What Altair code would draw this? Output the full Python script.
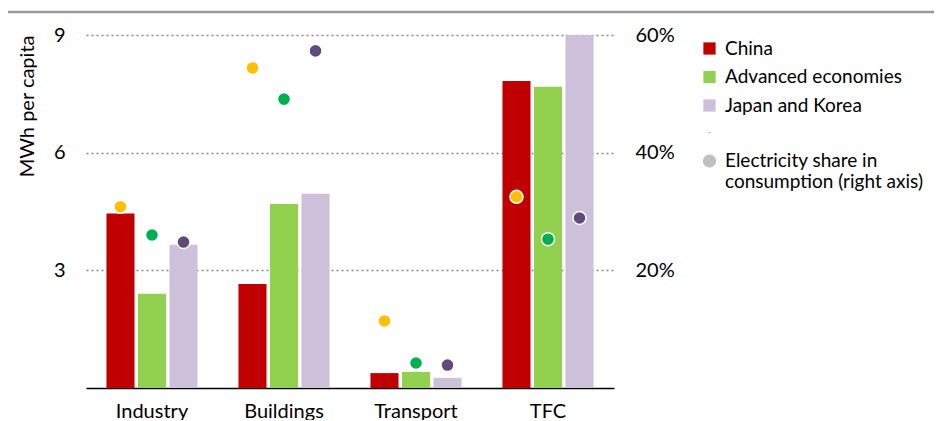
import altair as alt
import pandas as pd

categories = ["Industry", "Buildings", "Transport", "TFC"]
series = ["China", "Advanced economies", "Japan and Korea"]
mwh_china = [4.45, 2.65, 0.38, 7.83]
mwh_adv = [2.40, 4.69, 0.41, 7.68]
mwh_jk = [3.65, 4.95, 0.26, 9.0]
share_china = [0.308, 0.544, 0.114, 0.325]
share_adv = [0.260, 0.491, 0.0425, 0.253]
share_jk = [0.248, 0.573, 0.039, 0.289]

bar_colors = ["#C00000", "#92D050", "#CCC0DA"]
dot_colors = ["#FFC000", "#00B050", "#604A7B"]
share_label = "Electricity share in consumption (right axis)"

rows = []
for s, mw, sh in zip(series, [mwh_china, mwh_adv, mwh_jk], [share_china, share_adv, share_jk]):
    for c, m, p in zip(categories, mw, sh):
        rows.append({"cat": c, "series": s, "mwh": m, "share": p, "lbl": share_label})
df = pd.DataFrame(rows)

FONT = "Lato"
FS = 20
LFS = 19

x_enc = alt.X("cat:N", sort=categories, title=None,
              scale=alt.Scale(paddingInner=0.31, paddingOuter=0.155),
              axis=alt.Axis(labelAngle=0, labelFontSize=FS, labelColor="#000", labelPadding=13,
                            ticks=False, domainColor="#000", domainWidth=1.5, labelFont=FONT))
xo_enc = alt.XOffset("series:N", sort=series, scale=alt.Scale(paddingInner=0.11, paddingOuter=0))

bars = alt.Chart(df).mark_bar().encode(
    x=x_enc,
    xOffset=xo_enc,
    y=alt.Y("mwh:Q", scale=alt.Scale(domain=[0, 9]),
            axis=alt.Axis(title="MWh per capita", values=[3, 6, 9], grid=True, gridDash=[2, 3],
                          gridColor="#888", gridWidth=1.3, domain=False, ticks=False,
                          labelFontSize=FS, labelPadding=21, titleFontSize=FS, titleFontWeight="normal",
                          titlePadding=16, titleAnchor="end", labelFont=FONT, titleFont=FONT,
                          labelColor="#000", titleColor="#000")),
    color=alt.Color("series:N", sort=series,
                    scale=alt.Scale(domain=series, range=bar_colors),
                    legend=alt.Legend(title=None, orient="none", legendX=614, legendY=4,
                                      symbolType="square", symbolSize=150, labelFontSize=LFS,
                                      labelFont=FONT, labelColor="#000", rowPadding=8.5, labelOffset=6,
                                      labelLimit=300, symbolStrokeWidth=0)),
)

dots = alt.Chart(df).mark_point(filled=True, size=170, stroke="white", strokeWidth=1.5, opacity=1).encode(
    x=alt.X("cat:N", sort=categories),
    xOffset=xo_enc,
    y=alt.Y("share:Q", scale=alt.Scale(domain=[0, 0.6]),
            axis=alt.Axis(title=None, orient="right", values=[0.2, 0.4, 0.6], format=".0%", grid=False,
                          domain=False, ticks=False, labelFontSize=FS, labelPadding=21,
                          labelFont=FONT, labelColor="#000")),
    fill=alt.Fill("series:N", sort=series, scale=alt.Scale(domain=series, range=dot_colors), legend=None),
    shape=alt.Shape("lbl:N", scale=alt.Scale(domain=[" ", share_label], range=["M-0.25,0H0.25", "circle"]),
                    legend=alt.Legend(title=None, orient="none", legendX=614, legendY=88,
                                      symbolFillColor="#BFBFBF", symbolStrokeColor="#BFBFBF",
                                      symbolStrokeWidth=1, symbolSize=150, labelFontSize=LFS,
                                      labelFont=FONT, labelColor="#000", rowPadding=8.5, labelOffset=6,
                                      labelLimit=300,
                                      labelExpr="datum.label == ' ' ? '' : ['Electricity share in', 'consumption (right axis)']")),
)

topline = alt.Chart(pd.DataFrame({"a": [0]})).mark_rule(color="#999999", strokeWidth=2.5).encode(
    x=alt.value(-78), x2=alt.value(856), y=alt.value(-23)
)

chart = alt.layer(bars, dots, topline).resolve_scale(
    y="independent", color="independent"
).properties(
    width=528, height=353,
    autosize=alt.AutoSizeParams(type="none"),
    padding={"left": 78, "top": 27, "right": 320, "bottom": 32},
).configure_view(stroke=None)

chart.save("out.html", embed_options={"renderer": "svg", "actions": False})
